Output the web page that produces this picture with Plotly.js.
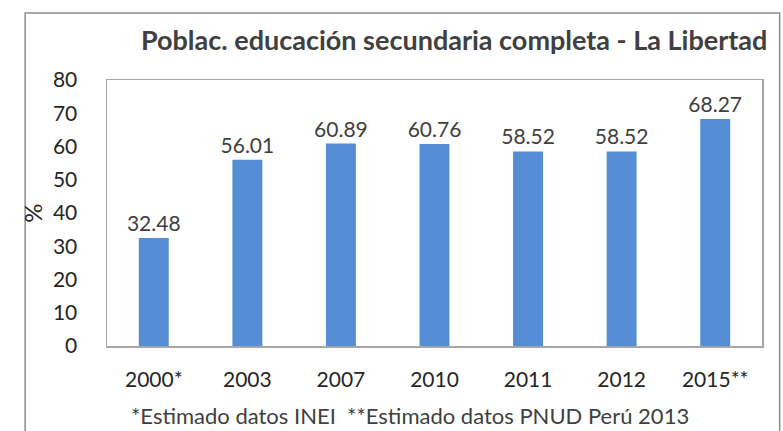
<!DOCTYPE html>
<html><head><meta charset="utf-8">
<script src="https://cdn.plot.ly/plotly-3.0.1.min.js"></script>
<style>body{margin:0;padding:0;background:#fff}#chart{width:783px;height:431px}</style>
</head><body><div id="chart"></div>
<script>
const categories = ["2000*", "2003", "2007", "2010", "2011", "2012", "2015**"];
const values = [32.48, 56.01, 60.89, 60.76, 58.52, 58.52, 68.27];
const yTicks = [0, 10, 20, 30, 40, 50, 60, 70, 80];
const titleText = "Poblac. educación secundaria completa - La Libertad";
const noteText = "*Estimado datos INEI  **Estimado datos PNUD Perú 2013";

const font = "Lato, 'Open Sans', sans-serif";
const data = [{
  type: "bar", x: categories, y: values,
  marker: {color: "#558ed5"},
  text: values.map(v => v.toFixed(2)), textposition: "outside", constraintext: "none",
  textfont: {family: font, size: 21, color: "#404040"},
  cliponaxis: false, hoverinfo: "none"
}];
const layout = {
  width: 783, height: 431,
  margin: {l: 107, r: 21, t: 80, b: 85},
  paper_bgcolor: "#fff", plot_bgcolor: "#fff",
  bargap: 0.68,
  showlegend: false,
  title: {text: "<b>" + titleText + "</b>", font: {family: font, size: 27, color: "#404040"}, x: 0.58, xanchor: "center", y: 0.905, yanchor: "middle"},
  xaxis: {type: "category", showline: true, mirror: true, linecolor: "#a6a6a6", linewidth: 1.5,
          tickfont: {family: font, size: 21, color: "#262626"}, ticks: "", ticklabelstandoff: 14, showgrid: false},
  yaxis: {range: [0, 80], tickvals: yTicks, showline: true, mirror: true, linecolor: "#a6a6a6", linewidth: 1.5,
          tickfont: {family: font, size: 21, color: "#262626"}, ticks: "", ticklabelstandoff: 24, showgrid: false, zeroline: false,
          title: {text: "%", font: {family: font, size: 24, color: "#262626"}, standoff: 3}},
  shapes: [{type: "rect", xref: "paper", yref: "paper", x0: -0.125, x1: 1.027, y0: -0.6, y1: 1.252, line: {color: "#8c8c8c", width: 1.5}}],
  annotations: [{text: noteText, xref: "paper", yref: "paper", x: 0.463, y: -0.262, xanchor: "center", yanchor: "middle", showarrow: false,
                 font: {family: font, size: 22, color: "#404040"}}]
};
Plotly.newPlot("chart", data, layout, {displayModeBar: false, staticPlot: true});
</script></body></html>
